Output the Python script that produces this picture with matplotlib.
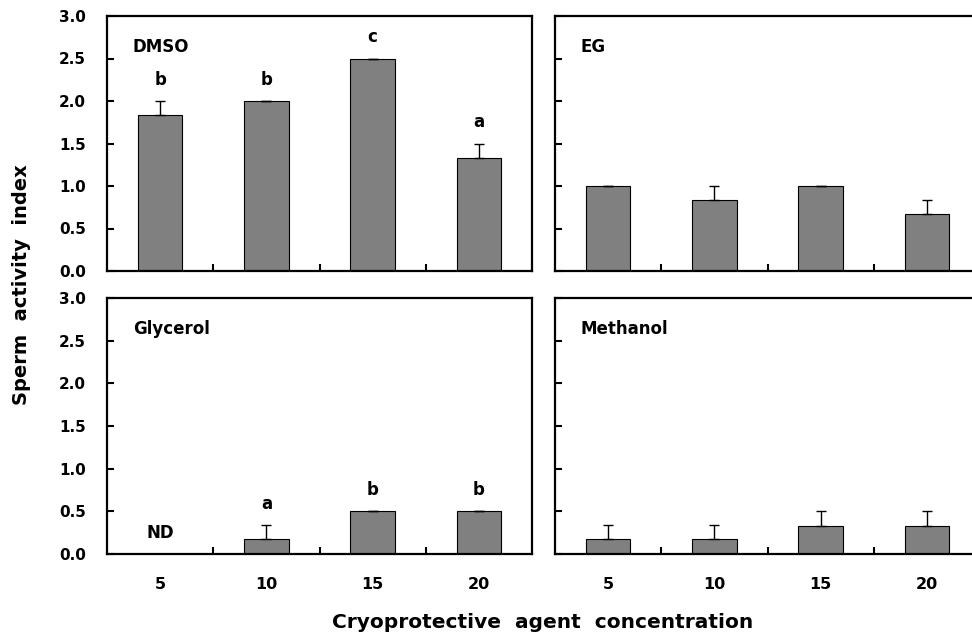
import matplotlib.pyplot as plt
import numpy as np

plt.rcParams['font.family'] = ['DejaVu Sans']
plt.rcParams['font.weight'] = 'bold'

conc = ['5', '10', '15', '20']

dmso = [1.83, 2.0, 2.5, 1.33]
dmso_err = [0.17, 0.0, 0.0, 0.17]
dmso_let = ['b', 'b', 'c', 'a']

eg = [1.0, 0.83, 1.0, 0.67]
eg_err = [0.0, 0.17, 0.0, 0.17]
eg_let = ['', '', '', '']

glyc = [0.0, 0.17, 0.5, 0.5]
glyc_err = [0.0, 0.17, 0.0, 0.0]
glyc_let = ['', 'a', 'b', 'b']

meth = [0.17, 0.17, 0.33, 0.33]
meth_err = [0.17, 0.17, 0.17, 0.17]
meth_let = ['', '', '', '']

fig = plt.figure(figsize=(9.72, 6.36), dpi=100)

# axes boxes in figure fractions (left, bottom, width, height)
W, H = 972.0, 636.0
boxes = [
    (107 / W, 1 - 271 / H, 425 / W, 255 / H),
    (555 / W, 1 - 271 / H, 425 / W, 255 / H),
    (107 / W, 1 - 554 / H, 425 / W, 256 / H),
    (555 / W, 1 - 554 / H, 425 / W, 256 / H),
]
panels = [
    ('DMSO', dmso, dmso_err, dmso_let),
    ('EG', eg, eg_err, eg_let),
    ('Glycerol', glyc, glyc_err, glyc_let),
    ('Methanol', meth, meth_err, meth_let),
]

x = np.arange(len(conc))
for i, (name, vals, errs, lets) in enumerate(panels):
    ax = fig.add_axes(boxes[i])
    lower = [0] * len(errs)
    ax.bar(x, vals, width=0.42, color='#808080', edgecolor='black', linewidth=0.8, zorder=2)
    ax.errorbar(x, vals, yerr=[lower, errs], fmt='none', ecolor='black',
                elinewidth=1, capsize=3.5, capthick=1, zorder=3)
    for xi, v, e, l in zip(x, vals, errs, lets):
        if l:
            ax.text(xi, v + e + 0.25, l, ha='center', va='center', fontsize=12, fontweight='bold')
    if name == 'Glycerol':
        ax.text(0, 0.25, 'ND', ha='center', va='center', fontsize=12, fontweight='bold')
    ax.text(0.061, 0.88, name, transform=ax.transAxes, ha='left', va='center',
            fontsize=12, fontweight='bold')

    ax.set_xlim(-0.5, 3.5)
    ax.set_ylim(0, 3.0)
    ax.set_yticks([0, 0.5, 1.0, 1.5, 2.0, 2.5, 3.0])
    ax.set_xticks(x)
    ax.set_xticks([0.5, 1.5, 2.5], minor=True)
    ax.tick_params(axis='y', direction='in', length=5, width=1.5, pad=15, labelsize=11)
    ax.tick_params(axis='x', which='major', length=0, pad=16.5, labelsize=11.5)
    ax.tick_params(axis='x', which='minor', direction='in', length=5, width=1.5)
    if i < 2:
        ax.set_xticklabels([])
    else:
        ax.set_xticklabels(conc, fontweight='bold')
    if i % 2 == 1:
        ax.set_yticklabels([])
    else:
        ax.set_yticklabels(['%.1f' % t for t in ax.get_yticks()], fontweight='bold')
    for s in ax.spines.values():
        s.set_linewidth(1.6)

fig.text(22 / W, 1 - 285 / H, 'Sperm  activity  index', rotation=90,
         ha='center', va='center', fontsize=14, fontweight='bold')
fig.text(543 / W, 1 - 622 / H, 'Cryoprotective  agent  concentration',
         ha='center', va='center', fontsize=14.5, fontweight='bold')

fig.savefig('out.png', dpi=100)
